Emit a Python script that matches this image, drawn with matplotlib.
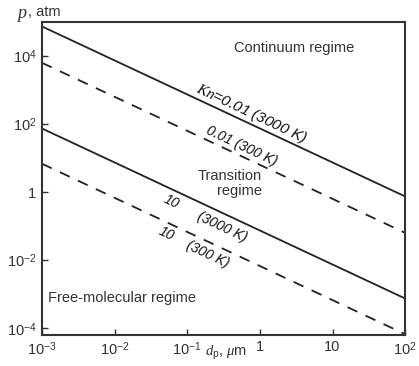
import matplotlib
matplotlib.use("Agg")
import matplotlib.pyplot as plt
import numpy as np

d_ends = [1e-3, 1e2]
p_kn001_3000 = [7.4e4, 0.74]
p_kn001_300 = [6.3e3, 0.063]
p_kn10_3000 = [74, 7.4e-4]
p_kn10_300 = [6.8, 6.6e-5]

xticks = [1e-3, 1e-2, 1e-1, 1, 10, 1e2]
xticklabels = ["$10^{-3}$", "$10^{-2}$", "$10^{-1}$", "1", "10", "$10^{2}$"]
yticks = [1e4, 1e2, 1, 1e-2, 1e-4]
yticklabels = ["$10^{4}$", "$10^{2}$", "1", "$10^{-2}$", "$10^{-4}$"]

plt.rcParams['font.family'] = ['Liberation Sans', 'DejaVu Sans']
plt.rcParams['mathtext.fontset'] = 'custom'
plt.rcParams['mathtext.rm'] = 'Liberation Sans'
plt.rcParams['mathtext.it'] = 'Liberation Serif:italic'
plt.rcParams['mathtext.bf'] = 'Liberation Sans:bold'
plt.rcParams['mathtext.sf'] = 'Liberation Sans'
plt.rcParams['mathtext.fallback'] = 'cm'

fig = plt.figure(figsize=(4.19, 3.66), dpi=100)
ax = fig.add_axes([0.100, 0.085, 0.867, 0.855])
ax.set_xscale('log'); ax.set_yscale('log')
ax.set_xlim(1e-3, 1e2)
ax.set_ylim(6.3e-5, 1e5)

lc = '#222222'
ax.plot(d_ends, p_kn001_3000, color=lc, lw=1.3)
ax.plot(d_ends, p_kn001_300, color=lc, lw=1.3, ls=(0, (6, 5)))
ax.plot(d_ends, p_kn10_3000, color=lc, lw=1.3)
ax.plot(d_ends, p_kn10_300, color=lc, lw=1.3, ls=(0, (6, 5)))

ax.set_xticks(xticks); ax.set_xticklabels(xticklabels)
ax.set_yticks(yticks); ax.set_yticklabels(yticklabels)
ax.minorticks_off()
ax.tick_params(direction='in', length=4, width=1, labelsize=10.5, colors='#333333',
               top=False, right=False, pad=4)
for s in ax.spines.values():
    s.set_linewidth(1.5); s.set_color('#333333')

tc = '#333333'
fig.text(0.040, 0.962, "p", fontsize=13, family='Liberation Serif', style='italic', color=tc, ha='left', va='center')
fig.text(0.066, 0.966, ", atm", fontsize=10.5, color=tc, ha='left', va='center')
fig.text(0.49, 0.035, "$d_\\mathrm{p}$, $\\mu$m", fontsize=10.5, color=tc, ha='left', va='center')

fs = 10.5
ax.text(3.0, 1.7e4, "Continuum regime", fontsize=fs, color=tc, ha='center', va='center')
ax.text(1.06, 1.8, "Transition\nregime", fontsize=fs, color=tc, ha='right', va='center',
        multialignment='right', linespacing=1.15)
ax.text(0.0125, 7.9e-4, "Free-molecular regime", fontsize=fs, color=tc, ha='center', va='center')

ang = -25.3
lab = dict(fontsize=10, style='italic', color='#111111', rotation=ang,
           rotation_mode='anchor', ha='center', va='center')
ax.text(0.75, 209, "$Kn$=0.01 (3000 K)", **dict(lab, fontsize=11))
ax.text(0.57, 23, "0.01 (300 K)", **lab)
ax.text(0.060, 0.51, "10", **lab)
ax.text(0.30, 0.091, "(3000 K)", **lab)
ax.text(0.052, 0.06, "10", **lab)
ax.text(0.19, 0.015, "(300 K)", **lab)

fig.savefig("out.png", dpi=100)
